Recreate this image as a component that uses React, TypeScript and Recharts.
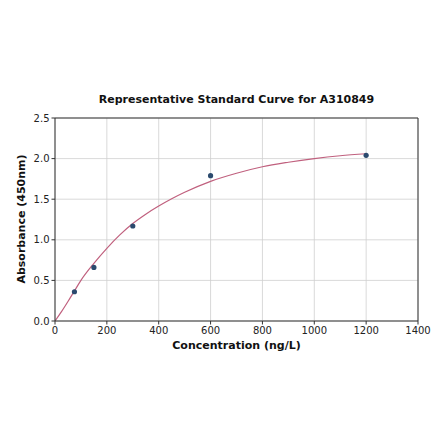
import React from "react";
import { ComposedChart, Line, Scatter, XAxis, YAxis, CartesianGrid, ReferenceLine } from "recharts";

const standardConc = [75, 150, 300, 600, 1200];
const standardAbs = [0.36, 0.66, 1.17, 1.79, 2.04];

const curveConc = [0, 25, 50, 75, 100, 150, 200, 250, 300, 350, 400, 450, 500, 600, 700, 800, 900, 1000, 1100, 1200];
const curveAbs = [0, 0.115, 0.24, 0.37, 0.50, 0.71, 0.895, 1.06, 1.20, 1.315, 1.415, 1.505, 1.585, 1.72, 1.82, 1.90, 1.955, 2.00, 2.035, 2.06];

const xTicks = [0, 200, 400, 600, 800, 1000, 1200, 1400];
const yTicks = [0, 0.5, 1.0, 1.5, 2.0, 2.5];

const titleText = "Representative Standard Curve for A310849";
const xLabelText = "Concentration (ng/L)";
const yLabelText = "Absorbance (450nm)";

const points = standardConc.map((x, i) => ({ x, y: standardAbs[i] }));
const curve = curveConc.map((x, i) => ({ x, y: curveAbs[i] }));

const FONT = "'DejaVu Sans', sans-serif";
const AXIS = "#333333";

const Dot = (props: any) => <circle cx={props.cx} cy={props.cy} r={2.6} fill="#2b4a6e" />;

export default function App() {
  return (
    <div style={{ position: "relative", width: 432, height: 425, fontFamily: FONT }}>
      <ComposedChart
        width={432}
        height={425}
        margin={{ top: 110, right: 22, bottom: 82, left: 0 }}
      >
        <CartesianGrid stroke="#cfcfcf" strokeWidth={0.8} />
        <XAxis
          type="number"
          dataKey="x"
          domain={[0, 1400]}
          ticks={xTicks}
          height={30}
          allowDataOverflow
          stroke={AXIS}
          tickSize={3.5}
          tick={{ fill: "#222", fontSize: 10, fontFamily: FONT }}
        />
        <YAxis
          type="number"
          dataKey="y"
          domain={[0, 2.5]}
          ticks={yTicks}
          width={47}
          allowDataOverflow
          stroke={AXIS}
          tickSize={3.5}
          tickFormatter={(v: number) => v.toFixed(1)}
          tick={{ fill: "#222", fontSize: 10, fontFamily: FONT }}
        />
        <ReferenceLine x={1400} stroke={AXIS} strokeWidth={1} />
        <ReferenceLine y={2.5} stroke={AXIS} strokeWidth={1} />
        <Line
          data={curve}
          dataKey="y"
          type="monotone"
          stroke="#c0607e"
          strokeWidth={1.2}
          dot={false}
          isAnimationActive={false}
        />
        <Scatter data={points} dataKey="y" shape={Dot} isAnimationActive={false} />
      </ComposedChart>
      <div
        style={{
          position: "absolute",
          left: 47,
          width: 363,
          top: 85,
          textAlign: "center",
          fontSize: 11,
          fontWeight: "bold",
          color: "#111",
          whiteSpace: "nowrap",
        }}
      >
        {titleText}
      </div>
      <div
        style={{
          position: "absolute",
          left: 47,
          width: 363,
          top: 331,
          textAlign: "center",
          fontSize: 11,
          fontWeight: "bold",
          color: "#111",
          whiteSpace: "nowrap",
        }}
      >
        {xLabelText}
      </div>
      <div
        style={{
          position: "absolute",
          left: 14 - 100,
          top: 211 - 7,
          width: 200,
          height: 14,
          lineHeight: "14px",
          textAlign: "center",
          fontSize: 11,
          fontWeight: "bold",
          color: "#111",
          whiteSpace: "nowrap",
          transform: "rotate(-90deg)",
        }}
      >
        {yLabelText}
      </div>
    </div>
  );
}
